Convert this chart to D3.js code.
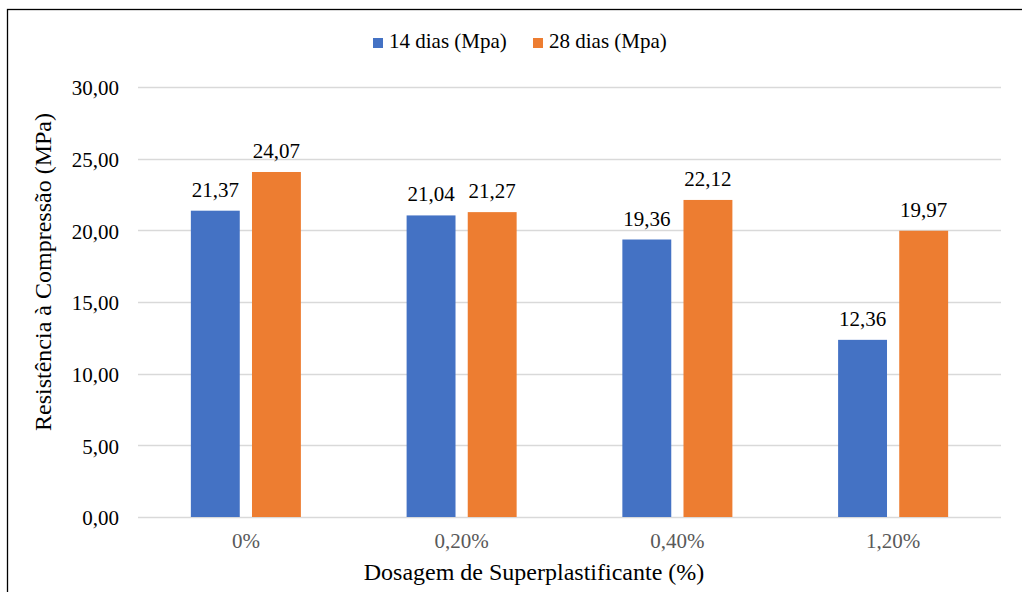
<!DOCTYPE html>
<html><head><meta charset="utf-8">
<script src="https://cdn.jsdelivr.net/npm/d3@7"></script>
</head><body style="margin:0;background:#fff">
<svg id="c" width="1022" height="592"></svg>
<script>
const categories = ["0%", "0,20%", "0,40%", "1,20%"];
const seriesNames = ["14 dias (Mpa)", "28 dias (Mpa)"];
const dias14 = [21.37, 21.04, 19.36, 12.36];
const dias28 = [24.07, 21.27, 22.12, 19.97];
const yTicks = [0, 5, 10, 15, 20, 25, 30];
const colors = ["#4472C4", "#ED7D31"];

const FONT = '"Liberation Serif"';
const svg = d3.select("#c");
const fmt = v => d3.format(".2f")(v).replace(".", ",");

// outer border
svg.append("rect").attr("x", 7.5).attr("y", 9.5).attr("width", 1200).attr("height", 1000)
  .attr("fill", "none").attr("stroke", "#000").attr("stroke-width", 1.3);

const pLeft = 138, pRight = 1001, pTop = 87, pBottom = 517;
const x = d3.scaleBand().domain(categories).range([pLeft, pRight]).paddingInner(0.49).paddingOuter(0.245);
const x1 = d3.scaleBand().domain([0, 1]).range([0, x.bandwidth()]).paddingInner(0.2);
const y = d3.scaleLinear().domain([0, 30]).range([pBottom, pTop]);

// gridlines
svg.append("g").selectAll("line").data(yTicks).join("line")
  .attr("x1", pLeft).attr("x2", pRight)
  .attr("y1", d => Math.round(y(d)) + 0.5).attr("y2", d => Math.round(y(d)) + 0.5)
  .attr("stroke", "#d9d9d9").attr("stroke-width", 1.3);

// y axis labels
const yAxis = d3.axisLeft(y).tickValues(yTicks).tickFormat(fmt).tickSize(0).tickPadding(0);
const gy = svg.append("g").attr("transform", `translate(119,0)`).call(yAxis);
gy.attr("font-family", null).attr("font-size", null);
gy.select(".domain").remove();
gy.selectAll("text").style("font-family", FONT).style("font-size", "21px").attr("fill", "#000")
  .attr("dy", "0.37em");

// x axis labels
const xAxis = d3.axisBottom(x).tickSize(0).tickPadding(0);
const gx = svg.append("g").attr("transform", `translate(0,${pBottom})`).call(xAxis);
gx.attr("font-family", null).attr("font-size", null);
gx.select(".domain").remove();
gx.selectAll("text").style("font-family", FONT).style("font-size", "21px").attr("fill", "#595959")
  .attr("dy", null).attr("y", 31);

const series = [dias14, dias28];
series.forEach((vals, si) => {
  const g = svg.append("g");
  g.selectAll("rect").data(vals).join("rect")
    .attr("x", (d, i) => x(categories[i]) + x1(si))
    .attr("width", x1.bandwidth())
    .attr("y", d => y(d))
    .attr("height", d => y(0) - y(d))
    .attr("fill", colors[si]);
  g.selectAll("text").data(vals).join("text")
    .attr("x", (d, i) => x(categories[i]) + x1(si) + x1.bandwidth() / 2)
    .attr("y", d => y(d) - 14)
    .attr("text-anchor", "middle").attr("fill", "#000")
    .style("font-family", FONT).style("font-size", "21px")
    .text(fmt);
});

// legend
const legX = [373, 533];
seriesNames.forEach((n, i) => {
  svg.append("rect").attr("x", legX[i]).attr("y", 38).attr("width", 10).attr("height", 10).attr("fill", colors[i]);
  svg.append("text").attr("x", legX[i] + 16).attr("y", 48).attr("fill", "#000")
    .style("font-family", FONT).style("font-size", "21px").text(n);
});

// axis titles
svg.append("text").attr("x", 534).attr("y", 580).attr("text-anchor", "middle").attr("fill", "#000")
  .style("font-family", FONT).style("font-size", "24px").text("Dosagem de Superplastificante (%)");
svg.append("text").attr("transform", "translate(51,272) rotate(-90)").attr("text-anchor", "middle").attr("fill", "#000")
  .style("font-family", FONT).style("font-size", "24px").text("Resistência à Compressão (MPa)");
</script>
</body></html>
